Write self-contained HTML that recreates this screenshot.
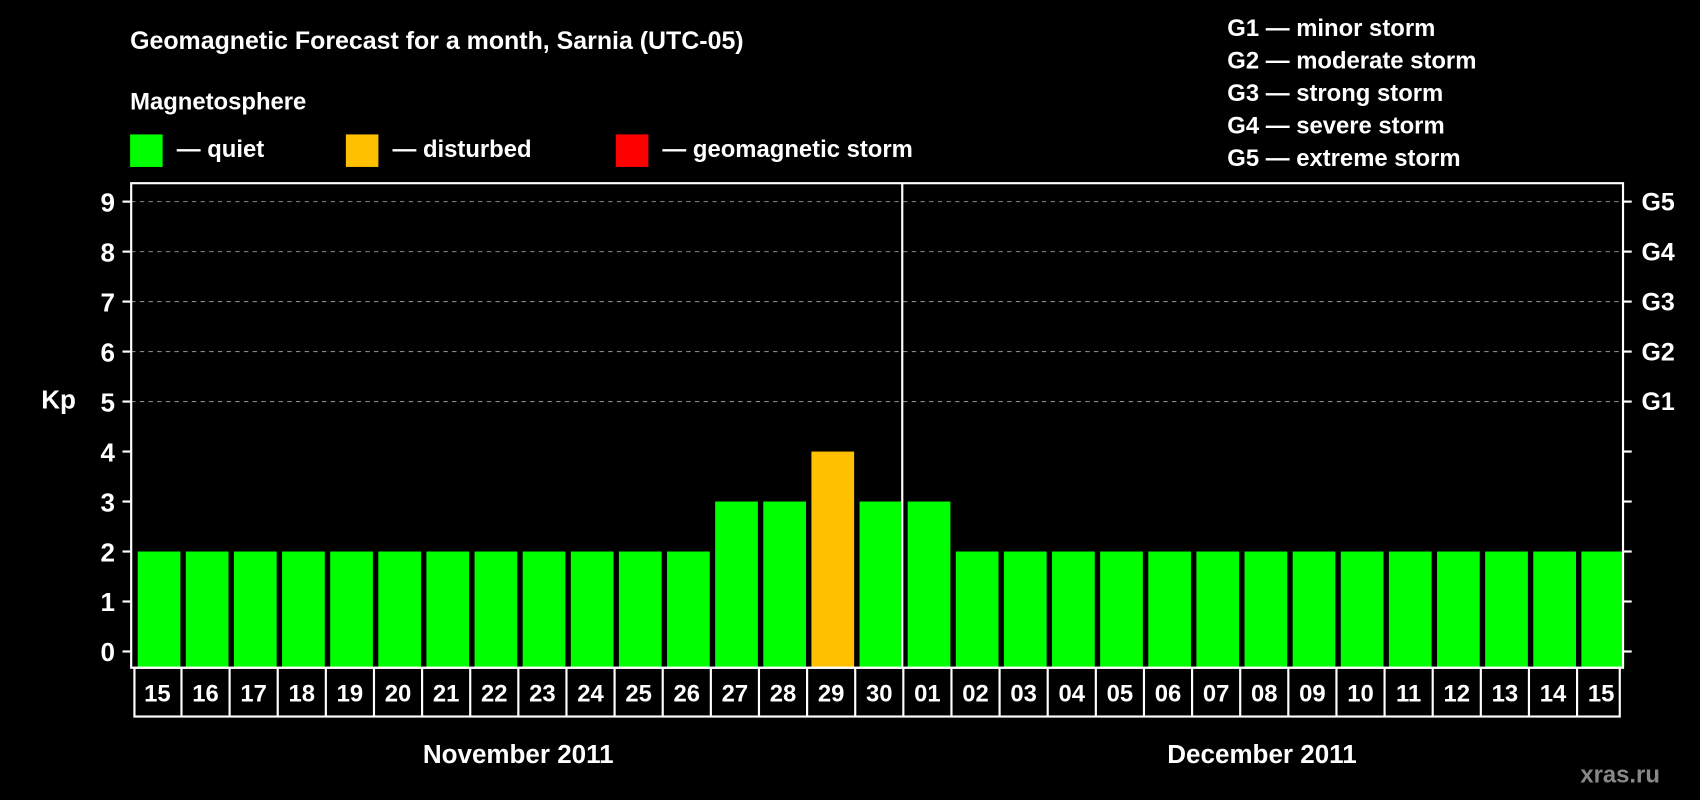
<!DOCTYPE html>
<html><head><meta charset="utf-8"><style>
html,body{margin:0;padding:0;background:#000;}
svg{display:block;font-family:"Liberation Sans",Arial,sans-serif;font-weight:bold;}
</style></head><body>
<svg id="chart" width="1700" height="800" viewBox="0 0 1568 738" preserveAspectRatio="none" xmlns="http://www.w3.org/2000/svg">
<rect width="1568" height="738" fill="#000"/>
<text x="120" y="45" fill="#fff" font-size="23">Geomagnetic Forecast for a month, Sarnia (UTC-05)</text>
<text x="120" y="101" fill="#fff" font-size="22">Magnetosphere</text>
<g><rect x="120" y="124" width="30" height="30" fill="#00ff00"/><text x="163" y="145" fill="#fff" font-size="22">— quiet</text></g>
<g><rect x="319" y="124" width="30" height="30" fill="#ffc000"/><text x="362" y="145" fill="#fff" font-size="22">— disturbed</text></g>
<g><rect x="568" y="124" width="30" height="30" fill="#ff0000"/><text x="611" y="145" fill="#fff" font-size="22">— geomagnetic storm</text></g>
<g fill="#fff" font-size="22">
<text x="1132" y="33">G1 — minor storm</text>
<text x="1132" y="63">G2 — moderate storm</text>
<text x="1132" y="93">G3 — strong storm</text>
<text x="1132" y="123">G4 — severe storm</text>
<text x="1132" y="153">G5 — extreme storm</text>
</g>
<text x="38" y="377" fill="#fff" font-size="24">Kp</text>
<g id="grid"></g>
<g id="bars"></g>
<g id="axes"></g>
<text x="478" y="704" fill="#fff" font-size="24" text-anchor="middle">November 2011</text>
<text x="1164" y="704" fill="#fff" font-size="24" text-anchor="middle">December 2011</text>
<text x="1531" y="722" fill="#888" font-size="22" text-anchor="end">xras.ru</text>
</svg>
<script>
const days = ["15","16","17","18","19","20","21","22","23","24","25","26","27","28","29","30","01","02","03","04","05","06","07","08","09","10","11","12","13","14","15"];
const kpValues = [2,2,2,2,2,2,2,2,2,2,2,2,3,3,4,3,3,2,2,2,2,2,2,2,2,2,2,2,2,2,2];
const yTicks = [0,1,2,3,4,5,6,7,8,9];
const stormLabels = ["G1","G2","G3","G4","G5"];
const stormLevels = [5,6,7,8,9];

const NS="http://www.w3.org/2000/svg";
const L=121,R=1497,T=169,B=616,Y0=601,Y9=186;
const pitch=(R-L)/days.length;
const y=v=>Y0-(v/9)*(Y0-Y9);
const x=i=>L+i*pitch;
function mk(tag,attrs,parent){const e=document.createElementNS(NS,tag);for(const k in attrs)e.setAttribute(k,attrs[k]);parent.appendChild(e);return e;}
const grid=document.getElementById('grid'),bars=document.getElementById('bars'),axes=document.getElementById('axes');
const colorFor=v=>v>=5?"#ff0000":(v>=4?"#ffc000":"#00ff00");

stormLevels.forEach((lv,i)=>{
  const g=mk('line',{x1:L,x2:R,y1:y(lv),y2:y(lv),stroke:'#888','stroke-width':1,'stroke-dasharray':'4,4'},grid);
  
  
  const t=mk('text',{x:1514,y:y(lv)+8,fill:'#fff','font-size':23},axes);
  t.textContent=stormLabels[i];
  
  
});
kpValues.forEach((v,i)=>{
  const r=mk('rect',{x:x(i)+6,y:y(v),width:pitch-5,height:B-y(v),fill:colorFor(v)},bars);
  
  
});
yTicks.forEach(v=>{
  mk('line',{x1:113,x2:L,y1:y(v),y2:y(v),stroke:'#fff','stroke-width':2},axes);
  mk('line',{x1:R,x2:1505,y1:y(v),y2:y(v),stroke:'#fff','stroke-width':2},axes);
  const t=mk('text',{x:106,y:y(v)+9,fill:'#fff','font-size':24,'text-anchor':'end'},axes);
  t.textContent=v;
  
  
});
const frame=mk('rect',{x:L,y:T,width:R-L,height:B-T,fill:'none',stroke:'#fff','stroke-width':2},axes);


const sep=mk('line',{x1:x(16)+1,x2:x(16)+1,y1:T,y2:B,stroke:'#fff','stroke-width':2},axes);


const dr=mk('rect',{x:L+3,y:B,width:R-L-6,height:45,fill:'none',stroke:'#fff','stroke-width':2},axes);


days.forEach((d,i)=>{
  if(i>0)mk('line',{x1:x(i)+2,x2:x(i)+2,y1:B,y2:B+45,stroke:'#fff','stroke-width':2},axes);
  const t=mk('text',{x:x(i)+pitch/2+2,y:B+31,fill:'#fff','font-size':22,'text-anchor':'middle'},axes);
  t.textContent=d;
  
  
});
</script>
</body></html>
